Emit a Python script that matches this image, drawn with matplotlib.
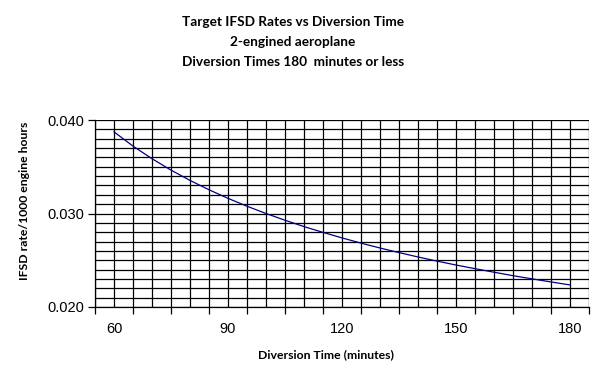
import numpy as np
import matplotlib.pyplot as plt
from matplotlib.ticker import FixedLocator, NullFormatter

# diversion time (minutes) and target IFSD rate
minutes = [60, 65, 70, 75, 80, 85, 90, 95, 100, 105, 110, 115, 120,
           125, 130, 135, 140, 145, 150, 155, 160, 165, 170, 175, 180]
ifsd_rate = [0.03873, 0.03721, 0.03586, 0.03464, 0.03354, 0.03254, 0.03162,
             0.03078, 0.03000, 0.02928, 0.02860, 0.02798, 0.02739, 0.02683,
             0.02631, 0.02582, 0.02535, 0.02491, 0.02449, 0.02410, 0.02372,
             0.02335, 0.02301, 0.02268, 0.02236]
x_labels = [60, 90, 120, 150, 180]
y_labels = [0.020, 0.030, 0.040]
title_lines = ["Target IFSD Rates vs Diversion Time",
               "2-engined aeroplane",
               "Diversion Times 180  minutes or less"]

fig = plt.figure(figsize=(6, 3.84), dpi=100)
ax = fig.add_axes([95/600, 1 - 307/384, 494/600, 187/384])

xmin, xmax = 55, 185
ymin, ymax = 0.020, 0.040

# grid (every 5 minutes, every 0.001)
for gx in np.arange(xmin, xmax + 1, 5):
    ax.axvline(gx, color='black', lw=0.9, zorder=1)
for gy in np.linspace(ymin, ymax, 21):
    ax.axhline(gy, color='black', lw=0.9, zorder=1)

ax.plot(minutes, ifsd_rate, color='#000080', lw=0.9, zorder=3)

ax.set_xlim(xmin, xmax)
ax.set_ylim(ymin, ymax)

for s in ['top', 'right']:
    ax.spines[s].set_visible(False)
for s in ['left', 'bottom']:
    ax.spines[s].set_linewidth(0.9)

tick_font = {'family': 'Liberation Sans', 'size': 10.5}
ax.xaxis.set_major_locator(FixedLocator(x_labels))
ax.set_xticklabels([str(v) for v in x_labels], **tick_font)
ax.xaxis.set_minor_locator(FixedLocator(np.arange(xmin, xmax + 1, 10)))
ax.xaxis.set_minor_formatter(NullFormatter())
ax.tick_params(axis='x', which='major', length=0, pad=11)
ax.tick_params(axis='x', which='minor', length=5, width=0.9, direction='out')

ax.set_yticks(y_labels)
ax.set_yticklabels([f"{v:.3f}" for v in y_labels], **tick_font)
ax.tick_params(axis='y', which='major', length=5, width=0.9, direction='out', pad=3)

# axis titles placed like the original
fig.text(25/600, 1 - 201/384, "IFSD rate/1000 engine hours", rotation=90,
         ha='center', va='center', family='Lato', weight='bold', size=8.8)
fig.text(326/600, 1 - 355/384, "Diversion Time (minutes)",
         ha='center', va='center', family='Lato', weight='bold', size=8.8)

for i, line in enumerate(title_lines):
    fig.text(293/600, 1 - (22 + 20*i)/384, line, ha='center', va='center',
             family='Lato', weight='bold', size=9.8)

fig.savefig("out.png", dpi=100)
